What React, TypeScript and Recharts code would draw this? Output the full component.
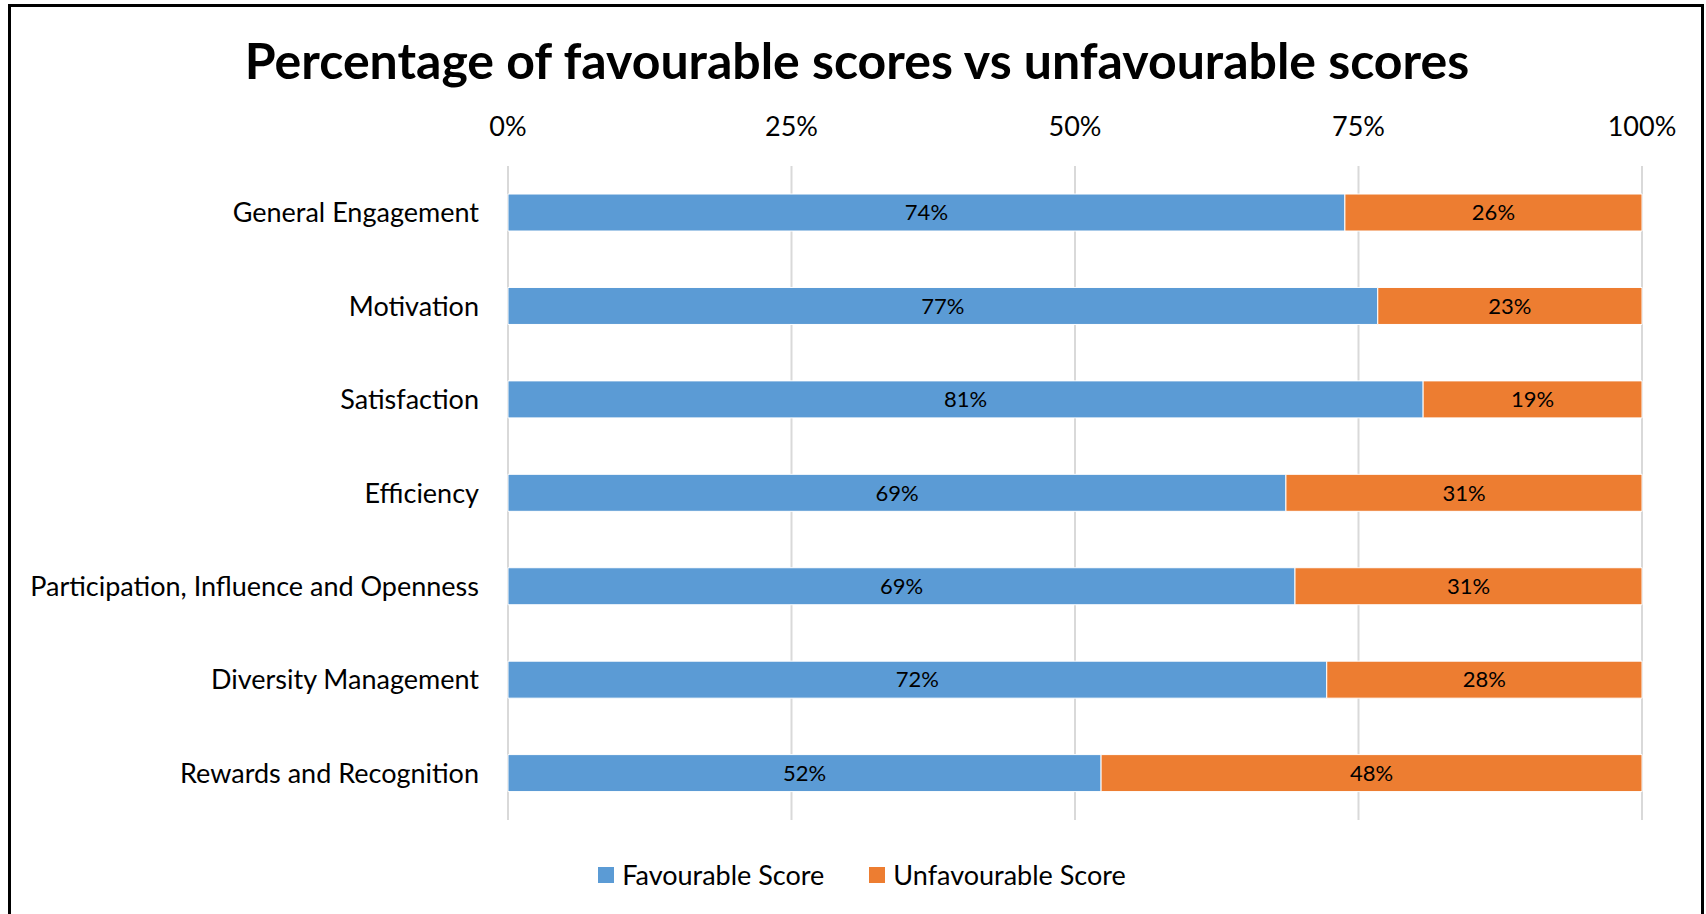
import React from 'react';
import { BarChart, Bar, XAxis, YAxis, CartesianGrid, LabelList, Legend } from 'recharts';

const categories = [
  'General Engagement',
  'Motivation',
  'Satisfaction',
  'Efficiency',
  'Participation, Influence and Openness',
  'Diversity Management',
  'Rewards and Recognition',
];
const favourable = [73.8, 76.7, 80.7, 68.6, 69.4, 72.2, 52.3];
const unfavourable = [26.2, 23.3, 19.3, 31.4, 30.6, 27.8, 47.7];
const xTicks = [0, 25, 50, 75, 100];
const seriesNames = ['Favourable Score', 'Unfavourable Score'];
const seriesColors = ['#5B9BD5', '#ED7D31'];
const title = 'Percentage of favourable scores vs unfavourable scores';

const data = categories.map((name, i) => ({ name, fav: favourable[i], unfav: unfavourable[i] }));

const FONT = 'Lato, "Open Sans", sans-serif';

const LegendContent = (props: any) => {
  const payload = props.payload || [];
  return (
    <div style={{ display: 'flex', justifyContent: 'center', alignItems: 'center', fontFamily: FONT, fontSize: 27, lineHeight: '30px', color: '#000' }}>
      {payload.map((p: any, i: number) => (
        <div key={i} style={{ display: 'flex', alignItems: 'center', marginRight: i === 0 ? 45 : 0 }}>
          <div style={{ width: 16, height: 16, background: p.color, marginRight: 8 }} />
          <span>{p.value}</span>
        </div>
      ))}
    </div>
  );
};

export default function App() {
  return (
    <div style={{ position: 'absolute', left: 0, top: 0, width: 1706, height: 914, overflow: 'hidden', background: '#fff' }}>
      <div style={{ position: 'absolute', left: 8, top: 4, width: 1696, height: 960, border: '3px solid #000', boxSizing: 'border-box' }} />
      <div style={{ position: 'absolute', left: 0, top: 29, width: 1714, textAlign: 'center', fontFamily: FONT, fontWeight: 700, fontSize: 50, lineHeight: '62px', color: '#000' }}>
        {title}
      </div>
      <div style={{ position: 'absolute', left: 0, top: 0 }}>
        <BarChart
          width={1706}
          height={914}
          data={data}
          layout="vertical"
          margin={{ top: 136, right: 64, bottom: 64, left: 0 }}
          barCategoryGap="30%"
          style={{ fontFamily: FONT }}
        >
          <CartesianGrid horizontal={false} vertical={true} stroke="#D9D9D9" strokeWidth={2} />
          <XAxis
            type="number"
            orientation="top"
            domain={[0, 100]}
            ticks={xTicks}
            tickFormatter={(v: number) => `${v}%`}
            axisLine={false}
            tickLine={false}
            tickSize={0}
            tickMargin={30}
            height={30}
            tick={{ fill: '#000', fontSize: 27 }}
            interval={0}
          />
          <YAxis
            type="category"
            dataKey="name"
            width={508}
            axisLine={false}
            tickLine={false}
            tickSize={0}
            tickMargin={29}
            tick={{ fill: '#000', fontSize: 27 }}
            interval={0}
          />
          <Bar dataKey="fav" name={seriesNames[0]} stackId="a" fill={seriesColors[0]} stroke="#fff" strokeWidth={1} isAnimationActive={false}>
            <LabelList dataKey="fav" position="center" fill="#000" fontSize={22} formatter={(v: any) => `${Math.round(Number(v))}%`} />
          </Bar>
          <Bar dataKey="unfav" name={seriesNames[1]} stackId="a" fill={seriesColors[1]} stroke="#fff" strokeWidth={1} isAnimationActive={false}>
            <LabelList dataKey="unfav" position="center" fill="#000" fontSize={22} formatter={(v: any) => `${Math.round(Number(v))}%`} />
          </Bar>
          <Legend content={<LegendContent />} wrapperStyle={{ position: 'absolute', top: 860, left: 0, width: 1724, height: 30 }} />
        </BarChart>
      </div>
    </div>
  );
}
